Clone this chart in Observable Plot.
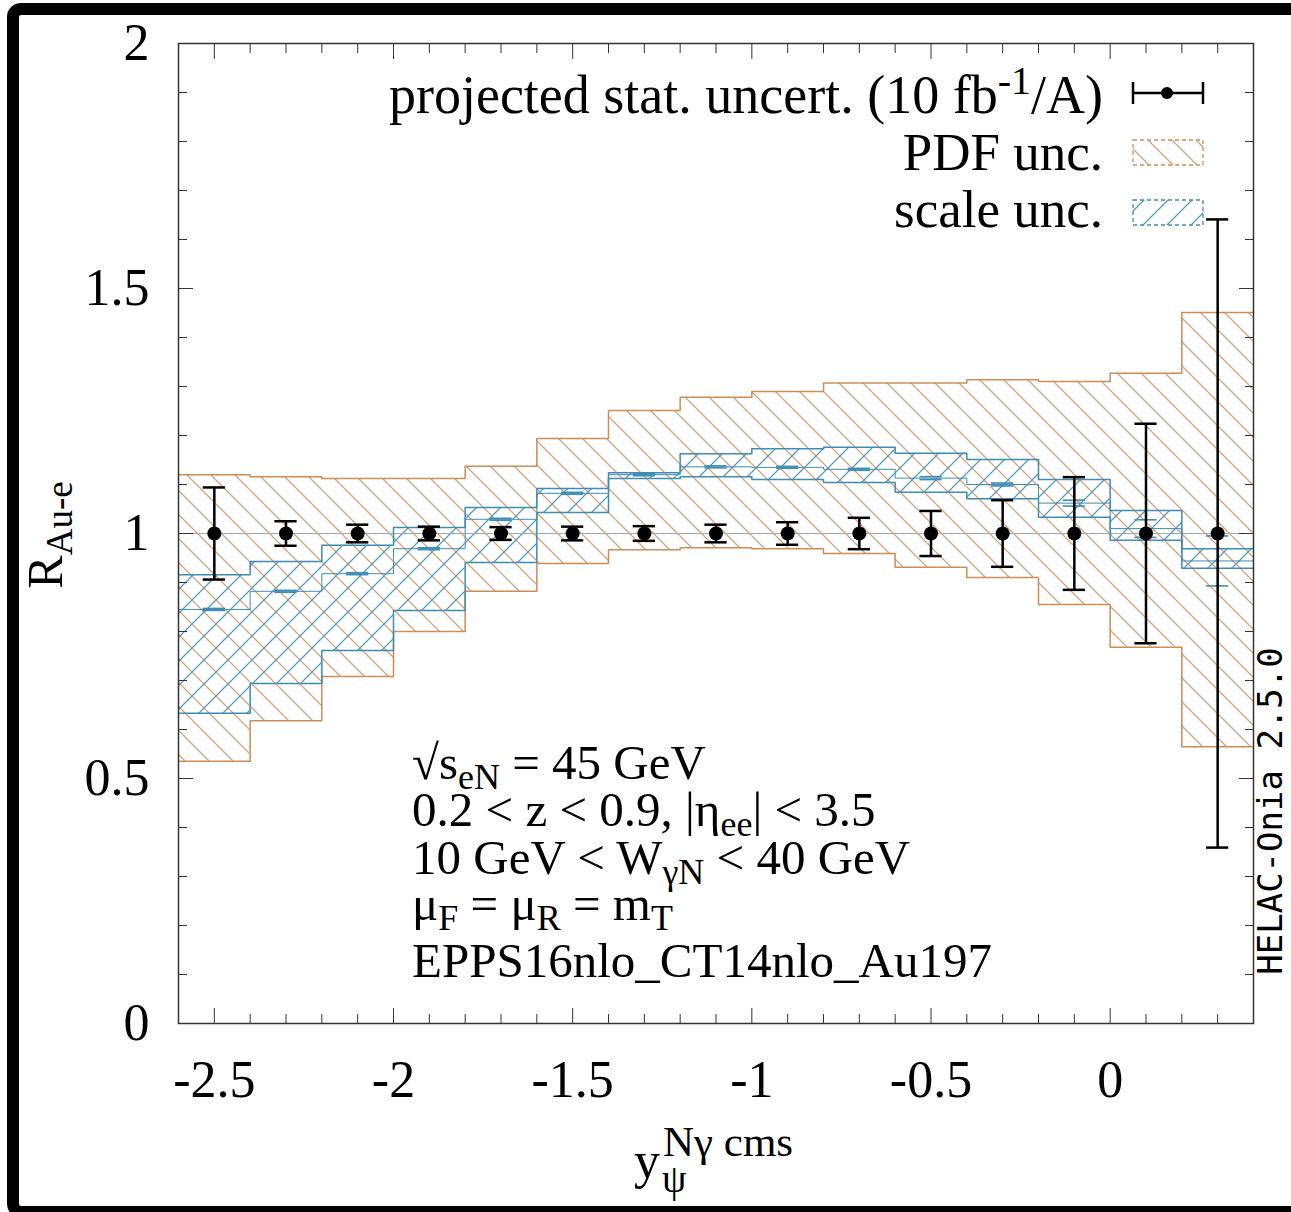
<!DOCTYPE html>
<html><head><meta charset="utf-8">
<script src="https://cdn.jsdelivr.net/npm/d3@7"></script>
<script src="https://cdn.jsdelivr.net/npm/@observablehq/plot@0.6"></script>
<style>
html,body{margin:0;padding:0;background:#fff;overflow:hidden;}
#wrap{position:relative;width:1291px;height:1212px;overflow:hidden;background:#fff;}
#chart{position:absolute;left:0;top:0;}
#frame{position:absolute;left:7px;top:3px;width:1320px;height:1191px;border:12px solid #000;border-radius:14px;pointer-events:none;}
</style></head>
<body><div id="wrap"><div id="chart"></div><div id="frame"></div></div>
<script>
// ---- data ----
const binEdges   = [-2.6,-2.4,-2.2,-2.0,-1.8,-1.6,-1.4,-1.2,-1.0,-0.8,-0.6,-0.4,-0.2,0.0,0.2,0.4];
const binCenters = [-2.5,-2.3,-2.1,-1.9,-1.7,-1.5,-1.3,-1.1,-0.9,-0.7,-0.5,-0.3,-0.1,0.1,0.3];
const pdfHi   = [1.120,1.116,1.112,1.112,1.137,1.194,1.251,1.278,1.290,1.307,1.307,1.314,1.310,1.327,1.451];
const pdfLo   = [0.535,0.618,0.708,0.800,0.882,0.939,0.967,0.971,0.969,0.959,0.931,0.910,0.855,0.768,0.565];
const scaleHi = [0.916,0.943,0.976,1.012,1.053,1.092,1.124,1.163,1.173,1.176,1.164,1.151,1.110,1.047,0.969];
const scaleLo = [0.633,0.694,0.761,0.843,0.941,1.043,1.112,1.116,1.110,1.104,1.084,1.071,1.033,0.986,0.929];
const central = [0.845,0.882,0.918,0.969,1.029,1.082,1.120,1.136,1.135,1.131,1.113,1.100,1.062,1.010,0.944];
const mcErr   = [0.002,0.002,0.002,0.002,0.002,0.002,0.002,0.002,0.002,0.002,0.003,0.003,0.006,0.018,0.051];
const projRatio = [1,1,1,1,1,1,1,1,1,1,1,1,1,1,1];
const statErr   = [0.094,0.025,0.018,0.014,0.013,0.014,0.015,0.018,0.023,0.032,0.046,0.068,0.115,0.224,0.641];
const xTickLabels = [-2.5,-2,-1.5,-1,-0.5,0];
const yTickLabels = [0,0.5,1,1.5,2];
const xMinorTicks = [-2.4,-2.3,-2.2,-2.1,-1.9,-1.8,-1.7,-1.6,-1.4,-1.3,-1.2,-1.1,-0.9,-0.8,-0.7,-0.6,-0.4,-0.3,-0.2,-0.1,0.1,0.2,0.3];
const yMinorTicks = [0.1,0.2,0.3,0.4,0.6,0.7,0.8,0.9,1.1,1.2,1.3,1.4,1.6,1.7,1.8,1.9];

// ---- styles ----
const pdfEdge = "#cd8d55", pdfHatchCol = "#d6a47c";
const scaleEdge = "#3d8db5", scaleHatchCol = "#509cc0";
const axisCol = "#333";
const serif = "'Liberation Serif', 'DejaVu Serif', serif";

// ---- tables built from the arrays ----
const bins = binCenters.map((c, i) => ({
  x1: binEdges[i], x2: binEdges[i + 1], c,
  pdfHi: pdfHi[i], pdfLo: pdfLo[i], scaleHi: scaleHi[i], scaleLo: scaleLo[i],
  central: central[i], mc: mcErr[i]
}));
const steps = arr => binEdges.map((e, i) => ({x: e, y: arr[Math.min(i, arr.length - 1)]}));
const points = binCenters.map((c, i) => ({x: c, y: projRatio[i], e: statErr[i]}));
const capHalf = 0.031;

const stepLine = (arr, stroke, w) => Plot.line(steps(arr), {x: "x", y: "y", curve: "step-after", stroke, strokeWidth: w});

const svg = Plot.plot({
  width: 1291, height: 1212,
  marginLeft: 178, marginRight: 38, marginTop: 43, marginBottom: 189,
  x: {domain: [-2.6, 0.4]},
  y: {domain: [0, 2]},
  style: {background: "white", fontFamily: serif, overflow: "visible"},
  marks: [
    Plot.rect(bins, {x1: "x1", x2: "x2", y1: "pdfLo", y2: "pdfHi", fill: "url(#pdfHatch)"}),
    Plot.rect(bins, {x1: "x1", x2: "x2", y1: "scaleLo", y2: "scaleHi", fill: "url(#scaleHatch)"}),
    Plot.ruleY([1], {stroke: "#9aabb4", strokeWidth: 1}),
    stepLine(pdfHi, pdfEdge, 1.5),
    stepLine(pdfLo, pdfEdge, 1.5),
    stepLine(scaleHi, scaleEdge, 1.5),
    stepLine(scaleLo, scaleEdge, 1.5),
    stepLine(central, scaleEdge, 1),
    Plot.ruleY(bins, {y: d => d.central + d.mc, x1: d => d.c - capHalf, x2: d => d.c + capHalf, stroke: scaleEdge, strokeWidth: 1.6}),
    Plot.ruleY(bins, {y: d => d.central - d.mc, x1: d => d.c - capHalf, x2: d => d.c + capHalf, stroke: scaleEdge, strokeWidth: 1.6}),
    Plot.ruleX(points, {x: "x", y1: d => d.y - d.e, y2: d => d.y + d.e, stroke: "black", strokeWidth: 2.5}),
    Plot.ruleY(points, {y: d => d.y + d.e, x1: d => d.x - capHalf, x2: d => d.x + capHalf, stroke: "black", strokeWidth: 2.5}),
    Plot.ruleY(points, {y: d => d.y - d.e, x1: d => d.x - capHalf, x2: d => d.x + capHalf, stroke: "black", strokeWidth: 2.5}),
    Plot.dot(points, {x: "x", y: "y", r: 7, fill: "black"}),
    Plot.frame({stroke: axisCol, strokeWidth: 1.5}),
    // ticks (inward, mirrored on all sides)
    Plot.axisX(xTickLabels, {anchor: "bottom", tickSize: -15, fill: "none", stroke: axisCol, label: null}),
    Plot.axisX(xMinorTicks, {anchor: "bottom", tickSize: -9, fill: "none", stroke: axisCol, label: null}),
    Plot.axisX(xTickLabels, {anchor: "top", tickSize: -15, fill: "none", stroke: axisCol, label: null}),
    Plot.axisX(xMinorTicks, {anchor: "top", tickSize: -9, fill: "none", stroke: axisCol, label: null}),
    Plot.axisY(yTickLabels, {anchor: "left", tickSize: -15, fill: "none", stroke: axisCol, label: null}),
    Plot.axisY(yMinorTicks, {anchor: "left", tickSize: -9, fill: "none", stroke: axisCol, label: null}),
    Plot.axisY(yTickLabels, {anchor: "right", tickSize: -15, fill: "none", stroke: axisCol, label: null}),
    Plot.axisY(yMinorTicks, {anchor: "right", tickSize: -9, fill: "none", stroke: axisCol, label: null}),
    // tick labels
    Plot.axisX(xTickLabels, {anchor: "bottom", tickSize: 0, tickPadding: 37, fontSize: 52, fill: "black", tickFormat: d => String(d), label: null}),
    Plot.axisY(yTickLabels, {anchor: "left", tickSize: 0, tickPadding: 29, fontSize: 52, fill: "black", tickFormat: d => String(d), label: null})
  ]
});

// hatch patterns
const root = d3.select(svg);
const defs = root.insert("defs", ":first-child");
const p1 = defs.append("pattern").attr("id", "pdfHatch").attr("patternUnits", "userSpaceOnUse").attr("width", 24).attr("height", 24);
p1.append("path").attr("d", "M0,0L24,24M-12,12L12,36M12,-12L36,12").attr("stroke", pdfHatchCol).attr("stroke-width", 1.3).attr("fill", "none");
const p2 = defs.append("pattern").attr("id", "scaleHatch").attr("patternUnits", "userSpaceOnUse").attr("width", 24).attr("height", 24);
p2.append("path").attr("d", "M0,24L24,0M-12,12L12,-12M12,36L36,12").attr("stroke", scaleHatchCol).attr("stroke-width", 1.3).attr("fill", "none");

// rich multi-line text: lines = [{x, y, parts}], parts are strings or {sub}/{sup}
function richText(parent, size, lines, anchor) {
  const t = parent.append("text").attr("font-size", size).attr("text-anchor", anchor || "start");
  lines.forEach(line => {
    let shift = 0, first = true;
    line.parts.forEach(p => {
      let target = 0, str = p, fs = null;
      if (typeof p !== "string") {
        target = p.sub !== undefined ? Math.round(size * 0.2) : -Math.round(size * 0.36);
        str = p.sub !== undefined ? p.sub : p.sup;
        fs = Math.round(size * 0.74);
      }
      const ts = t.append("tspan").text(str);
      if (first) { ts.attr("x", line.x).attr("y", line.y + target); first = false; }
      else ts.attr("dy", target - shift);
      if (fs) ts.attr("font-size", fs);
      shift = target;
    });
  });
  return t;
}

// legend
const lg = root.append("g").attr("font-family", serif).attr("fill", "black");
richText(lg, 54, [{x: 1103, y: 113, parts: ["projected stat. uncert. (10 fb", {sup: "-1"}, "/A)"]}], "end");
richText(lg, 53, [{x: 1103, y: 170, parts: ["PDF unc."]}], "end");
richText(lg, 53, [{x: 1103, y: 227, parts: ["scale unc."]}], "end");
const sym = root.append("g");
sym.append("line").attr("x1", 1133).attr("x2", 1203).attr("y1", 93).attr("y2", 93).attr("stroke", "black").attr("stroke-width", 2.5);
sym.append("line").attr("x1", 1133).attr("x2", 1133).attr("y1", 82).attr("y2", 104).attr("stroke", "black").attr("stroke-width", 2.5);
sym.append("line").attr("x1", 1203).attr("x2", 1203).attr("y1", 82).attr("y2", 104).attr("stroke", "black").attr("stroke-width", 2.5);
sym.append("circle").attr("cx", 1167).attr("cy", 93).attr("r", 6).attr("fill", "black");
sym.append("rect").attr("x", 1133).attr("y", 140).attr("width", 70).attr("height", 25).attr("fill", "url(#pdfHatch)").attr("stroke", pdfEdge).attr("stroke-width", 1.3).attr("stroke-dasharray", "4,3");
sym.append("rect").attr("x", 1133).attr("y", 200).attr("width", 70).attr("height", 25).attr("fill", "url(#scaleHatch)").attr("stroke", scaleEdge).attr("stroke-width", 1.3).attr("stroke-dasharray", "4,3");

// annotation block (one text element, five lines)
const an = root.append("g").attr("font-family", serif).attr("fill", "black");
richText(an, 49, [
  {x: 412, y: 779, parts: ["\u221As", {sub: "eN"}, " = 45 GeV"]},
  {x: 412, y: 826, parts: ["0.2 < z < 0.9, |\u03B7", {sub: "ee"}, "| < 3.5"]},
  {x: 412, y: 874, parts: ["10 GeV < W", {sub: "\u03B3N"}, " < 40 GeV"]},
  {x: 412, y: 920, parts: ["\u03BC", {sub: "F"}, " = \u03BC", {sub: "R"}, " = m", {sub: "T"}]},
  {x: 412, y: 977, parts: ["EPPS16nlo_CT14nlo_Au197"]}
]);

// axis titles
const yl = root.append("g").attr("transform", "translate(62,535) rotate(-90)").attr("font-family", serif);
richText(yl, 50, [{x: 0, y: 0, parts: ["R", {sub: "Au-e"}]}], "middle");
const xl = root.append("text").attr("font-family", serif).attr("fill", "black").attr("text-anchor", "start");
xl.append("tspan").attr("x", 634).attr("y", 1178).attr("font-size", 52).text("y");
xl.append("tspan").attr("x", 662).attr("y", 1192).attr("font-size", 39).text("\u03C8");
xl.append("tspan").attr("x", 663).attr("y", 1156).attr("font-size", 43).text("N\u03B3 cms");

// program tag
root.append("text").attr("transform", "translate(1282,811) rotate(-90)").attr("text-anchor", "middle")
  .attr("font-family", "'DejaVu Sans Mono', monospace").attr("font-size", 34).text("HELAC-Onia 2.5.0");

document.getElementById("chart").appendChild(svg);
</script></body></html>
